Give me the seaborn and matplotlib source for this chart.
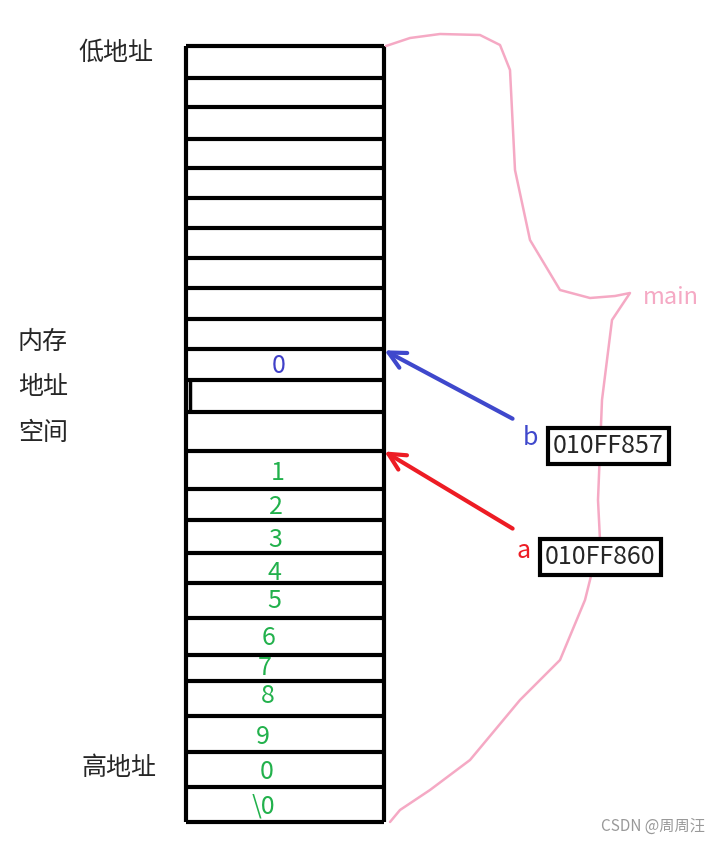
import matplotlib
matplotlib.use("Agg")
import matplotlib.pyplot as plt
import seaborn as sns

sns.set_style("white")
plt.rcParams['font.family'] = ['Noto Sans CJK SC', 'DejaVu Sans']

# row boundaries of the memory column (pixel units, top to bottom)
row_edges = [46, 78, 107, 139, 168, 198, 228, 258, 288, 319, 349, 380, 412,
             451, 489, 520, 553, 583, 618, 655, 681, 716, 752, 787, 822]
cell_text = {10: "0", 13: "1", 14: "2", 15: "3", 16: "4", 17: "5", 18: "6",
             19: "7", 20: "8", 21: "9", 22: "0", 23: "\\0"}
cell_text_y = {10: 366, 13: 473, 14: 507, 15: 540, 16: 573, 17: 601, 18: 638,
               19: 668, 20: 696, 21: 737, 22: 772, 23: 806}
cell_text_x = {10: 279, 13: 278, 14: 276, 15: 275, 16: 274, 17: 274, 18: 269,
               19: 265, 20: 268, 21: 263, 22: 267, 23: 263}
col_left, col_right = 186, 384

# brace outline for "main"
brace_x = [386, 410, 440, 480, 500, 510, 512, 515, 530, 560, 590, 615, 630,
           612, 602, 598, 600, 585, 560, 520, 470, 430, 400, 390]
brace_y = [46, 38, 34, 35, 45, 70, 110, 170, 240, 290, 298, 296, 293,
           320, 400, 500, 540, 600, 660, 700, 760, 790, 810, 822]

fig = plt.figure(figsize=(7.2, 8.44), dpi=100)
ax = fig.add_axes([0, 0, 1, 1])
ax.set_xlim(0, 720)
ax.set_ylim(844, 0)
ax.axis("off")

ax.vlines([col_left, col_right], row_edges[0], row_edges[-1], color="black", lw=3)
ax.hlines(row_edges, col_left, col_right, color="black", lw=3)
ax.vlines(190, 380, 412, color="black", lw=2.5)

green = "#22b14c"
for i, t in cell_text.items():
    ax.text(cell_text_x[i], cell_text_y[i], t, fontsize=18, ha="center", va="center",
            color="#4040c8" if i == 10 else green)

ax.plot(brace_x, brace_y, color="#f5a9c4", lw=1.8)
ax.text(643, 297, "main", fontsize=17, color="#f5a9c4", va="center")

ax.text(116, 53, "低地址", fontsize=18, ha="center", va="center")
ax.text(119, 768, "高地址", fontsize=18, ha="center", va="center")
for t, y in zip(["内存", "地址", "空间"], [342, 387, 433]):
    ax.text(18, y, t, fontsize=18, va="center")

ax.annotate("", xy=(382, 349), xytext=(515, 420),
            arrowprops=dict(arrowstyle="->,head_length=1.2,head_width=0.6", color="#3f48cc", lw=3))
ax.annotate("", xy=(382, 450), xytext=(515, 530),
            arrowprops=dict(arrowstyle="->,head_length=1.2,head_width=0.6", color="#ed1c24", lw=3))
ax.text(530, 438, "b", fontsize=18, color="#3f48cc", ha="center", va="center")
ax.text(524, 551, "a", fontsize=18, color="#ed1c24", ha="center", va="center")
ax.text(553, 446, "010FF857", fontsize=18, va="center",
        bbox=dict(boxstyle="square,pad=0.2", fc="white", ec="black", lw=3))
ax.text(545, 557, "010FF860", fontsize=18, va="center",
        bbox=dict(boxstyle="square,pad=0.2", fc="white", ec="black", lw=3))
ax.text(705, 826, "CSDN @周周汪", fontsize=11, color="#999999", ha="right", va="center")

fig.savefig("out.png", dpi=100)
